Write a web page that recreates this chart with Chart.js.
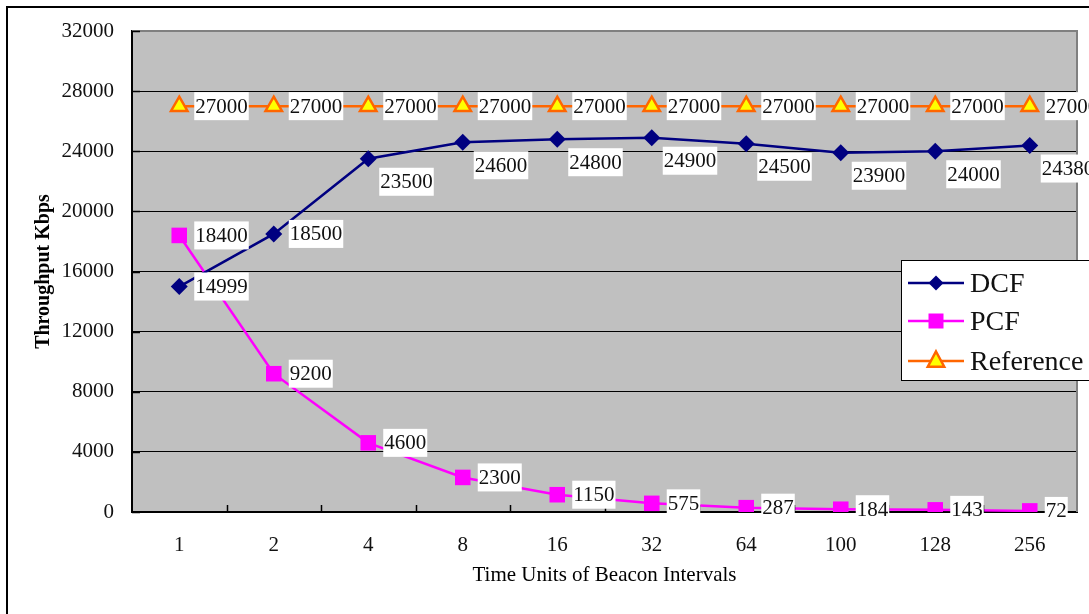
<!DOCTYPE html>
<html>
<head>
<meta charset="utf-8">
<script src="https://cdn.jsdelivr.net/npm/chart.js@4.4.0/dist/chart.umd.min.js"></script>
<style>
  html, body { margin: 0; padding: 0; background: #fff; }
  #wrap { width: 1089px; height: 614px; }
  canvas { display: block; }
</style>
</head>
<body>
<div id="wrap"><canvas id="chart" width="1089" height="614"></canvas></div>
<script>
// Beacon interval settings (time units) and measured throughput in Kbps
const intervals = ['1', '2', '4', '8', '16', '32', '64', '100', '128', '256'];
const dcfThroughput = [14999, 18500, 23500, 24600, 24800, 24900, 24500, 23900, 24000, 24380];
const pcfThroughput = [18400, 9200, 4600, 2300, 1150, 575, 287, 184, 143, 72];
const referenceThroughput = [27000, 27000, 27000, 27000, 27000, 27000, 27000, 27000, 27000, 27000];
const yTickValues = [0, 4000, 8000, 12000, 16000, 20000, 24000, 28000, 32000];

const SERIF = '"Liberation Serif", "Times New Roman", serif';

// Marker shapes shared by the legend
function drawMarker(ctx, style, x, y, fill, stroke, lw) {
  ctx.save();
  ctx.beginPath();
  if (style === 'diamond') {
    const r = 7.5;
    ctx.moveTo(x, y - r); ctx.lineTo(x + r, y); ctx.lineTo(x, y + r); ctx.lineTo(x - r, y);
    ctx.closePath();
  } else if (style === 'square') {
    const s = 7.5;
    ctx.rect(x - s, y - s, 2 * s, 2 * s);
  } else {
    const r = 9.5;
    ctx.moveTo(x, y - r);
    ctx.lineTo(x + r * 0.866, y + r * 0.5 + 1);
    ctx.lineTo(x - r * 0.866, y + r * 0.5 + 1);
    ctx.closePath();
  }
  ctx.fillStyle = fill;
  ctx.fill();
  if (lw) { ctx.strokeStyle = stroke; ctx.lineWidth = lw; ctx.stroke(); }
  ctx.restore();
}

const framePlugin = {
  id: 'frame',
  beforeDraw(chart) {
    const { ctx, chartArea: a } = chart;
    ctx.save();
    ctx.fillStyle = '#ffffff';
    ctx.fillRect(0, 0, chart.width, chart.height);
    // outer frame
    ctx.strokeStyle = '#000';
    ctx.lineWidth = 2;
    ctx.strokeRect(7, 7, 1200, 1200);
    // plot background
    ctx.fillStyle = '#c0c0c0';
    ctx.fillRect(a.left, a.top, a.right - a.left, a.bottom - a.top);
    ctx.restore();
  },
  afterDatasetsDraw(chart) {
    const { ctx, chartArea: a, scales } = chart;
    ctx.save();
    // shaded top and right edges of the plot
    ctx.strokeStyle = '#808080';
    ctx.lineWidth = 2;
    ctx.beginPath();
    ctx.moveTo(a.left, a.top); ctx.lineTo(a.right, a.top); ctx.lineTo(a.right, a.bottom);
    ctx.stroke();
    // inward tick marks
    ctx.strokeStyle = '#000';
    ctx.lineWidth = 1.5;
    ctx.beginPath();
    const n = intervals.length;
    const w = (a.right - a.left) / n;
    for (let k = 1; k < n; k++) {
      const x = Math.round(a.left + k * w) + 0.5;
      ctx.moveTo(x, a.bottom); ctx.lineTo(x, a.bottom - 7);
    }
    yTickValues.forEach(v => {
      const y = Math.round(scales.y.getPixelForValue(v)) + 0.5;
      ctx.moveTo(a.left, y); ctx.lineTo(a.left + 8, y);
    });
    ctx.stroke();

    // value labels on white boxes
    ctx.font = '21px ' + SERIF;
    ctx.textBaseline = 'middle';
    ctx.textAlign = 'left';
    chart.data.datasets.forEach((ds, di) => {
      const meta = chart.getDatasetMeta(di);
      meta.data.forEach((pt, i) => {
        const text = String(ds.data[i]);
        const tw = ctx.measureText(text).width;
        const below = ds.labelBelowFrom !== undefined && i >= ds.labelBelowFrom;
        const bx = pt.x + (below ? 11 : 15);
        const cy = pt.y + (below ? 23 : 0);
        const bw = tw + 2, bh = 28;
        ctx.fillStyle = '#ffffff';
        ctx.fillRect(bx, cy - bh / 2, bw, bh);
        ctx.fillStyle = '#111';
        ctx.fillText(text, bx + 1, cy + 1);
      });
    });
    ctx.restore();
  },
  afterDraw(chart) {
    const { ctx } = chart;
    ctx.save();
    // legend box
    ctx.fillStyle = '#ffffff';
    ctx.fillRect(901, 260, 200, 120);
    ctx.strokeStyle = '#000';
    ctx.lineWidth = 1;
    ctx.strokeRect(901.5, 260.5, 200, 120);
    const rows = [
      { ds: 0, y: 283, marker: 'diamond' },
      { ds: 1, y: 321, marker: 'square' },
      { ds: 2, y: 361, marker: 'triangle' }
    ];
    ctx.font = '28px ' + SERIF;
    ctx.textBaseline = 'middle';
    rows.forEach(r => {
      const ds = chart.data.datasets[r.ds];
      ctx.strokeStyle = ds.borderColor;
      ctx.lineWidth = 2.5;
      ctx.beginPath();
      ctx.moveTo(908, r.y); ctx.lineTo(964, r.y);
      ctx.stroke();
      drawMarker(ctx, r.marker, 936, r.y, ds.pointBackgroundColor, ds.pointBorderColor, r.marker === 'triangle' ? 2.5 : 0);
      ctx.fillStyle = '#111';
      ctx.fillText(ds.label, 970, r.y + 2);
    });
    ctx.restore();
  }
};

new Chart(document.getElementById('chart'), {
  type: 'line',
  data: {
    labels: intervals,
    datasets: [
      {
        label: 'DCF',
        data: dcfThroughput,
        borderColor: '#000080',
        borderWidth: 2.5,
        pointStyle: 'rectRot',
        pointRadius: 8.5,
        pointBorderWidth: 0,
        pointBackgroundColor: '#000080',
        pointBorderColor: '#000080',
        labelBelowFrom: 2
      },
      {
        label: 'PCF',
        data: pcfThroughput,
        borderColor: '#ff00ff',
        borderWidth: 2.5,
        pointStyle: 'rect',
        pointRadius: 11,
        pointBorderWidth: 0,
        pointBackgroundColor: '#ff00ff',
        pointBorderColor: '#ff00ff'
      },
      {
        label: 'Reference',
        data: referenceThroughput,
        borderColor: '#ff6600',
        borderWidth: 2.5,
        pointStyle: 'triangle',
        pointRadius: 9.5,
        pointBorderWidth: 2.5,
        pointBackgroundColor: '#ffff00',
        pointBorderColor: '#ff6600'
      }
    ]
  },
  options: {
    responsive: false,
    animation: false,
    layout: { padding: { left: 0, top: 31, right: 3, bottom: 0 } },
    plugins: { legend: { display: false }, tooltip: { enabled: false } },
    scales: {
      x: {
        offset: true,
        grid: { display: false, drawTicks: false },
        border: { display: true, color: '#000', width: 2 },
        ticks: { font: { family: SERIF, size: 21 }, color: '#111', padding: 21, maxRotation: 0 },
        title: {
          display: true,
          text: 'Time Units of Beacon Intervals',
          font: { family: SERIF, size: 21 },
          color: '#000',
          padding: { top: 0, bottom: 26 }
        },
        afterFit(scale) { scale.height = 102; }
      },
      y: {
        min: 0,
        max: 32000,
        afterBuildTicks(scale) { scale.ticks = yTickValues.map(v => ({ value: v })); },
        grid: { color: '#000', lineWidth: 1, drawTicks: false },
        border: { display: true, color: '#000', width: 2 },
        ticks: { font: { family: SERIF, size: 21 }, color: '#111', padding: 18, callback: v => String(v) },
        title: {
          display: true,
          text: 'Throughput Kbps',
          font: { family: SERIF, size: 20, weight: 'bold' },
          color: '#000',
          padding: { top: 32, bottom: 0 }
        },
        afterFit(scale) { scale.width = 132; }
      }
    }
  },
  plugins: [framePlugin]
});
</script>
</body>
</html>
